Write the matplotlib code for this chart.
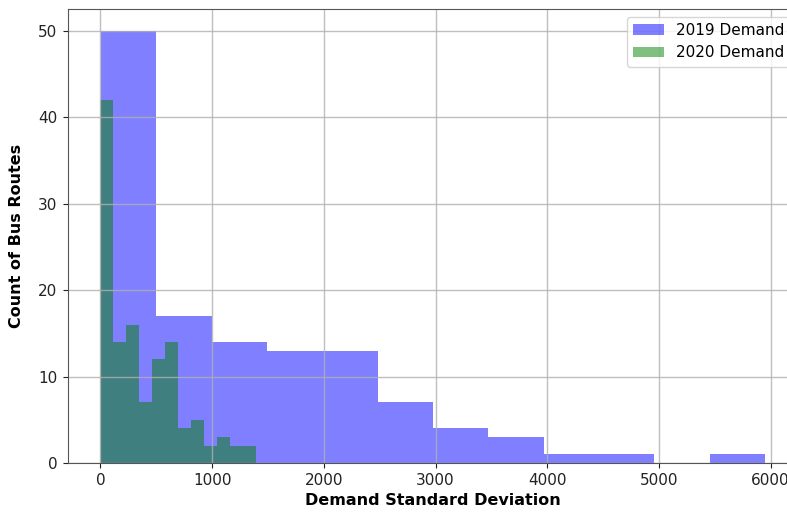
import numpy as np
import matplotlib
matplotlib.use('Agg')
import matplotlib.pyplot as plt

# bin counts
demand_2019_counts = [50, 17, 14, 13, 13, 7, 4, 3, 1, 1, 0, 1]
demand_2019_range = (5, 5950)
demand_2020_counts = [42, 14, 16, 7, 12, 14, 4, 5, 2, 3, 2, 2]
demand_2020_range = (0, 1395)

edges_2019 = np.linspace(*demand_2019_range, len(demand_2019_counts) + 1)
edges_2020 = np.linspace(*demand_2020_range, len(demand_2020_counts) + 1)
mids_2019 = (edges_2019[:-1] + edges_2019[1:]) / 2
mids_2020 = (edges_2020[:-1] + edges_2020[1:]) / 2

plt.rcParams['font.family'] = 'DejaVu Sans'
fig = plt.figure(figsize=(7.87, 5.12), dpi=100)
ax = fig.add_axes([68 / 787, 49 / 512, (798 - 68) / 787, (463 - 9) / 512])

ax.hist(mids_2019, bins=edges_2019, weights=demand_2019_counts,
        color='blue', alpha=0.5, label='2019 Demand')
ax.hist(mids_2020, bins=edges_2020, weights=demand_2020_counts,
        color='green', alpha=0.5, label='2020 Demand')

ax.grid(True, color='#b0b0b0', linewidth=1.0, alpha=0.8)
ax.set_xlim(-290, 6245)
ax.set_ylim(0, 52.5)
ax.set_xticks([0, 1000, 2000, 3000, 4000, 5000, 6000])
ax.set_yticks([0, 10, 20, 30, 40, 50])
ax.tick_params(labelsize=11, colors='#222222', pad=4)
for s in ax.spines.values():
    s.set_color('#555555')

ax.set_xlabel('Demand Standard Deviation', fontsize=11.5, fontweight='bold',
              labelpad=3)
ax.set_ylabel('Count of Bus Routes', fontsize=11.5, fontweight='bold',
              labelpad=10)
ax.legend(loc='upper right', fontsize=11)

plt.savefig('out.png', dpi=100)
